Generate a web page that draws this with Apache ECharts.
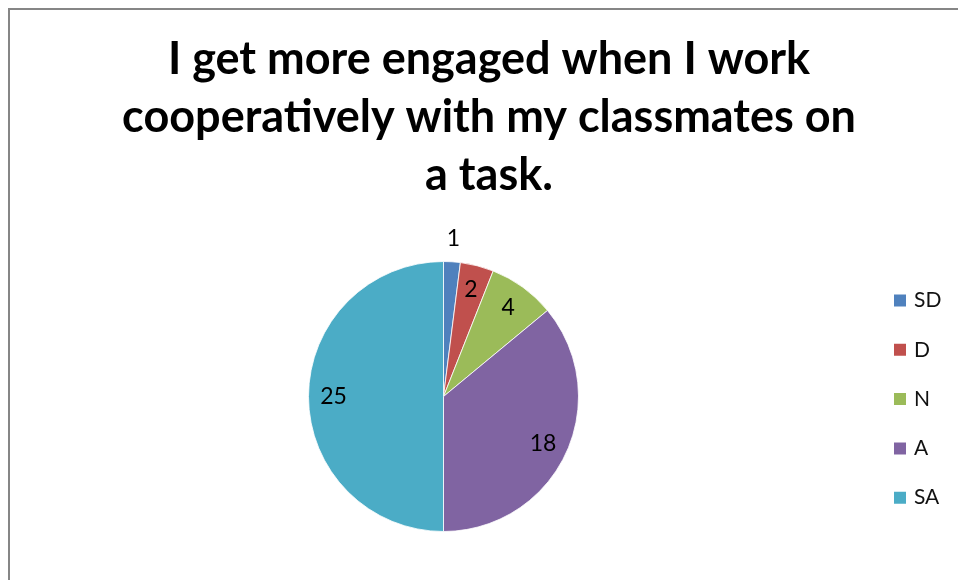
<!DOCTYPE html>
<html>
<head>
<meta charset="utf-8">
<script src="https://cdn.jsdelivr.net/npm/echarts@6/dist/echarts.min.js"></script>
<style>
html,body{margin:0;padding:0;background:#fff;}
#c{width:958px;height:580px;}
</style>
</head>
<body>
<div id="c"></div>
<script>
const titleText = 'I get more engaged when I work\ncooperatively with my classmates on\na task.';
const categories = ['SD', 'D', 'N', 'A', 'SA'];
const values = [1, 2, 4, 18, 25];
const colors = ['#4F81BD', '#C0504D', '#9BBB59', '#8064A2', '#4BACC6'];

const chart = echarts.init(document.getElementById('c'));
const mainData = categories.map((n, i) => ({ name: n, value: values[i], itemStyle: { color: colors[i] } }));
const innerLabelData = categories.map((n, i) => ({ name: n, value: values[i], label: { show: i !== 0 } }));
const outerLabelData = categories.map((n, i) => ({ name: n, value: values[i], label: { show: i === 0 } }));
const fontFam = 'Lato, "Open Sans", sans-serif';

chart.setOption({
  animation: false,
  title: {
    text: titleText,
    left: 489, top: 30, textAlign: 'center', padding: 0,
    textStyle: { fontFamily: fontFam, fontWeight: 'bold', fontSize: 45, lineHeight: 58, color: '#000' }
  },
  graphic: [{
    type: 'rect', silent: true,
    shape: { x: 9, y: 9, width: 1100, height: 1100 },
    style: { fill: 'none', stroke: '#868686', lineWidth: 2 }
  }],
  legend: {
    orient: 'vertical', left: 892, top: 290, padding: 0,
    itemWidth: 14, itemHeight: 14, itemGap: 28.3,
    icon: 'rect',
    data: categories,
    textStyle: { fontFamily: fontFam, fontSize: 21, color: '#111', padding: [0, 0, 0, 2] }
  },
  series: [
    {
      type: 'pie', center: [443.5, 396.5], radius: [0, 135],
      startAngle: 90, clockwise: true,
      label: { show: false }, labelLine: { show: false },
      itemStyle: { borderColor: '#fff', borderWidth: 0.8 },
      emphasis: { disabled: true },
      data: mainData
    },
    {
      type: 'pie', center: [443.5, 396.5], radius: [79, 135],
      startAngle: 90, clockwise: true, silent: true,
      itemStyle: { color: 'rgba(0,0,0,0)' },
      label: { position: 'inside', formatter: '{c}', fontFamily: fontFam, fontSize: 23, color: '#000' },
      labelLine: { show: false },
      emphasis: { disabled: true },
      data: innerLabelData
    },
    {
      type: 'pie', center: [443.5, 396.5], radius: [140, 170],
      startAngle: 90, clockwise: true, silent: true,
      itemStyle: { color: 'rgba(0,0,0,0)' },
      label: { position: 'inside', formatter: '{c}', fontFamily: fontFam, fontSize: 23, color: '#000' },
      labelLine: { show: false },
      emphasis: { disabled: true },
      data: outerLabelData
    }
  ]
});
</script>
</body>
</html>
